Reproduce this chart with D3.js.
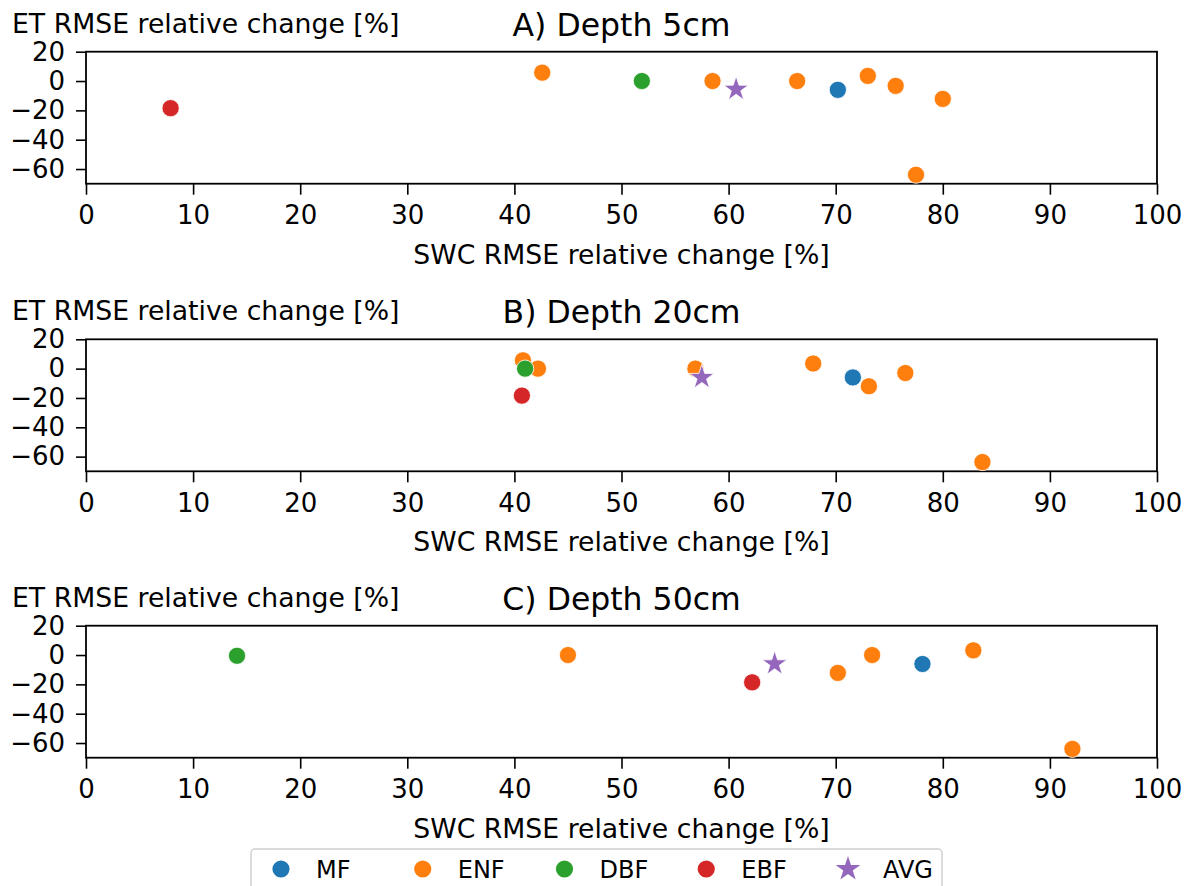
<!DOCTYPE html>
<html>
<head>
<meta charset="utf-8">
<script src="https://cdn.jsdelivr.net/npm/d3@7"></script>
<style>
  html, body { margin: 0; padding: 0; background: #fff; }
  svg { display: block; font-family: "DejaVu Sans", sans-serif; }
</style>
</head>
<body>
<svg id="chart" width="1192" height="886"></svg>
<script>
// ---------- data ----------
const panelTitles = ["A) Depth 5cm", "B) Depth 20cm", "C) Depth 50cm"];
const categories = ["MF", "ENF", "DBF", "EBF", "AVG"];
const colors = ["#1f77b4", "#ff7f0e", "#2ca02c", "#d62728", "#9467bd"];
const xTicks = [0, 10, 20, 30, 40, 50, 60, 70, 80, 90, 100];
const yTicks = [20, 0, -20, -40, -60];
const xLabel = "SWC RMSE relative change [%]";
const yLabel = "ET RMSE relative change [%]";

// Panel A (5cm)
const mfA  = [[70.2, -6.0]];
const enfA = [[42.6, 5.7], [58.5, 0.0], [66.4, 0.0], [73.0, 3.5], [75.6, -3.3], [80.0, -12.2], [77.5, -63.9]];
const dbfA = [[51.9, 0.0]];
const ebfA = [[7.9, -18.5]];
const avgA = [[60.7, -5.6]];
// Panel B (20cm)
const mfB  = [[71.6, -6.0]];
const enfB = [[40.8, 5.7], [42.2, 0.0], [56.9, 0.0], [67.9, 3.5], [73.1, -12.0], [76.5, -3.0], [83.7, -63.7]];
const dbfB = [[41.0, 0.0]];
const ebfB = [[40.7, -18.4]];
const avgB = [[57.5, -6.0]];
// Panel C (50cm)
const mfC  = [[78.1, -6.1]];
const enfC = [[45.0, 0.0], [70.2, -12.2], [73.4, 0.0], [82.85, 3.2], [92.1, -64.0]];
const dbfC = [[14.1, -0.5]];
const ebfC = [[62.2, -18.6]];
const avgC = [[64.3, -6.0]];

const panels = [
  [mfA, enfA, dbfA, ebfA, avgA],
  [mfB, enfB, dbfB, ebfB, avgB],
  [mfC, enfC, dbfC, ebfC, avgC]
];

// ---------- layout ----------
const svg = d3.select("#chart");
const left = 86, right = 1157;
const plotH = 132;
const tops = [51.7, 339.3, 625.7];
const tickFont = 26, labelFont = 26.7, titleFont = 31.5;

const x = d3.scaleLinear().domain([0, 100]).range([left, right]);

panels.forEach((series, pi) => {
  const top = tops[pi];
  const y = d3.scaleLinear().domain([-70, 20]).range([top + plotH, top]);
  const g = svg.append("g");

  // x axis
  const xa = g.append("g")
    .attr("transform", `translate(0,${top + plotH})`)
    .call(d3.axisBottom(x).tickValues(xTicks).tickFormat(d3.format("d")).tickSize(11).tickPadding(11).tickSizeOuter(0));
  // y axis
  const ya = g.append("g")
    .attr("transform", `translate(${left},0)`)
    .call(d3.axisLeft(y).tickValues(yTicks).tickFormat(d => d < 0 ? "\u2212" + Math.abs(d) : d).tickSize(10).tickPadding(11).tickSizeOuter(0));
  [xa, ya].forEach(a => {
    a.select(".domain").remove();
    a.selectAll(".tick line").attr("stroke", "#000").attr("stroke-width", 1.6);
    a.selectAll(".tick text").attr("fill", "#000").style("font-size", tickFont + "px").style("font-family", "DejaVu Sans");
  });

  // frame
  g.append("rect")
    .attr("x", left).attr("y", top)
    .attr("width", right - left).attr("height", plotH)
    .attr("fill", "none").attr("stroke", "#000").attr("stroke-width", 1.8);

  // labels
  g.append("text").attr("x", 12).attr("y", top - 19)
    .style("font-size", labelFont + "px").text(yLabel);
  g.append("text").attr("x", (left + right) / 2).attr("y", top - 16)
    .attr("text-anchor", "middle").style("font-size", titleFont + "px").text(panelTitles[pi]);
  g.append("text").attr("x", (left + right) / 2).attr("y", top + plotH + 80)
    .attr("text-anchor", "middle").style("font-size", labelFont + "px").text(xLabel);

  // points
  series.forEach((pts, si) => {
    if (categories[si] === "AVG") {
      g.selectAll(null).data(pts).enter().append("path")
        .attr("d", d3.symbol(d3.symbolStar, 190)())
        .attr("transform", d => `translate(${x(d[0])},${y(d[1])})`)
        .attr("fill", colors[si]).attr("stroke", "#fff").attr("stroke-width", 0.8);
    } else {
      g.selectAll(null).data(pts).enter().append("circle")
        .attr("cx", d => x(d[0])).attr("cy", d => y(d[1])).attr("r", 8.6)
        .attr("fill", colors[si]).attr("stroke", "#fff").attr("stroke-width", 0.8);
    }
  });
});

// ---------- legend ----------
const lg = svg.append("g");
lg.append("rect").attr("x", 251).attr("y", 849).attr("width", 691).attr("height", 50)
  .attr("rx", 4).attr("fill", "#fff").attr("stroke", "#d0d0d0").attr("stroke-width", 1.5);
const legX = d3.scalePoint().domain(categories).range([281, 848]);
categories.forEach((c, i) => {
  const cx = legX(c), cy = 869;
  if (c === "AVG") {
    lg.append("path").attr("d", d3.symbol(d3.symbolStar, 190)())
      .attr("transform", `translate(${cx},${cy})`).attr("fill", colors[i]);
  } else {
    lg.append("circle").attr("cx", cx).attr("cy", cy).attr("r", 8.6).attr("fill", colors[i]);
  }
  lg.append("text").attr("x", cx + 35).attr("y", cy + 9)
    .style("font-size", "24px").text(c);
});
</script>
</body>
</html>
